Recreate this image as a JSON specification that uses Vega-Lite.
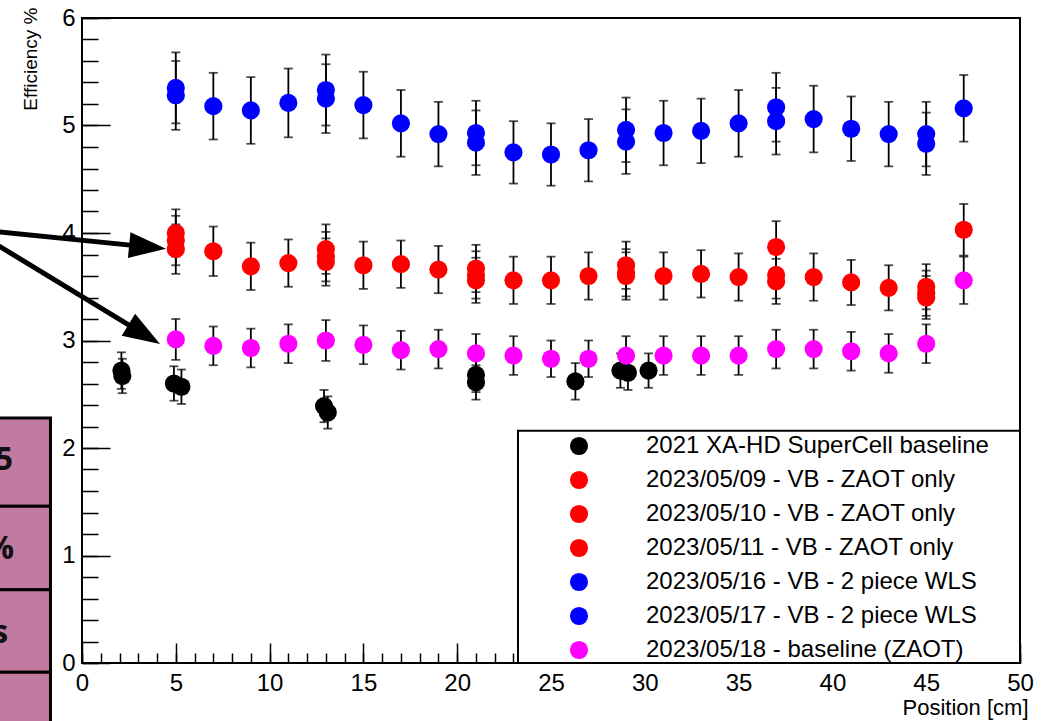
{
  "$schema": "https://vega.github.io/schema/vega-lite/v6.json",
  "width": 938,
  "height": 645,
  "autosize": {"type": "none"},
  "padding": {"left": 82, "top": 18, "right": 26, "bottom": 58},
  "background": "white",
  "config": {
    "view": {"stroke": "black", "strokeWidth": 2},
    "font": "Liberation Sans",
    "axis": {"grid": false}
  },
  "datasets": {
    "pts": [
      {"s": "2021 XA-HD SuperCell baseline", "x": 2.1, "y": 2.72, "err": 0.17},
      {"s": "2021 XA-HD SuperCell baseline", "x": 2.15, "y": 2.67, "err": 0.16},
      {"s": "2021 XA-HD SuperCell baseline", "x": 4.9, "y": 2.6, "err": 0.16},
      {"s": "2021 XA-HD SuperCell baseline", "x": 5.3, "y": 2.57, "err": 0.16},
      {"s": "2021 XA-HD SuperCell baseline", "x": 12.9, "y": 2.39, "err": 0.15},
      {"s": "2021 XA-HD SuperCell baseline", "x": 13.1, "y": 2.33, "err": 0.15},
      {"s": "2021 XA-HD SuperCell baseline", "x": 21.0, "y": 2.68, "err": 0.16},
      {"s": "2021 XA-HD SuperCell baseline", "x": 21.0, "y": 2.61, "err": 0.16},
      {"s": "2021 XA-HD SuperCell baseline", "x": 26.3, "y": 2.62, "err": 0.17},
      {"s": "2021 XA-HD SuperCell baseline", "x": 28.7, "y": 2.72, "err": 0.16},
      {"s": "2021 XA-HD SuperCell baseline", "x": 29.1, "y": 2.7, "err": 0.16},
      {"s": "2021 XA-HD SuperCell baseline", "x": 30.2, "y": 2.72, "err": 0.16},
      {"s": "2023/05/09 - VB - ZAOT only", "x": 5, "y": 4.0, "err": 0.22},
      {"s": "2023/05/09 - VB - ZAOT only", "x": 13, "y": 3.85, "err": 0.23},
      {"s": "2023/05/09 - VB - ZAOT only", "x": 21, "y": 3.67, "err": 0.22},
      {"s": "2023/05/09 - VB - ZAOT only", "x": 29, "y": 3.7, "err": 0.22},
      {"s": "2023/05/09 - VB - ZAOT only", "x": 37, "y": 3.87, "err": 0.24},
      {"s": "2023/05/09 - VB - ZAOT only", "x": 45, "y": 3.5, "err": 0.21},
      {"s": "2023/05/10 - VB - ZAOT only", "x": 5, "y": 3.93, "err": 0.23},
      {"s": "2023/05/10 - VB - ZAOT only", "x": 13, "y": 3.78, "err": 0.23},
      {"s": "2023/05/10 - VB - ZAOT only", "x": 21, "y": 3.61, "err": 0.22},
      {"s": "2023/05/10 - VB - ZAOT only", "x": 29, "y": 3.63, "err": 0.22},
      {"s": "2023/05/10 - VB - ZAOT only", "x": 37, "y": 3.61, "err": 0.22},
      {"s": "2023/05/10 - VB - ZAOT only", "x": 45, "y": 3.44, "err": 0.21},
      {"s": "2023/05/11 - VB - ZAOT only", "x": 5, "y": 3.85, "err": 0.23},
      {"s": "2023/05/11 - VB - ZAOT only", "x": 7, "y": 3.83, "err": 0.23},
      {"s": "2023/05/11 - VB - ZAOT only", "x": 9, "y": 3.69, "err": 0.22},
      {"s": "2023/05/11 - VB - ZAOT only", "x": 11, "y": 3.72, "err": 0.22},
      {"s": "2023/05/11 - VB - ZAOT only", "x": 13, "y": 3.73, "err": 0.22},
      {"s": "2023/05/11 - VB - ZAOT only", "x": 15, "y": 3.7, "err": 0.22},
      {"s": "2023/05/11 - VB - ZAOT only", "x": 17, "y": 3.71, "err": 0.22},
      {"s": "2023/05/11 - VB - ZAOT only", "x": 19, "y": 3.66, "err": 0.22},
      {"s": "2023/05/11 - VB - ZAOT only", "x": 21, "y": 3.56, "err": 0.21},
      {"s": "2023/05/11 - VB - ZAOT only", "x": 23, "y": 3.56, "err": 0.22},
      {"s": "2023/05/11 - VB - ZAOT only", "x": 25, "y": 3.56, "err": 0.22},
      {"s": "2023/05/11 - VB - ZAOT only", "x": 27, "y": 3.6, "err": 0.22},
      {"s": "2023/05/11 - VB - ZAOT only", "x": 29, "y": 3.6, "err": 0.22},
      {"s": "2023/05/11 - VB - ZAOT only", "x": 31, "y": 3.6, "err": 0.22},
      {"s": "2023/05/11 - VB - ZAOT only", "x": 33, "y": 3.62, "err": 0.22},
      {"s": "2023/05/11 - VB - ZAOT only", "x": 35, "y": 3.59, "err": 0.22},
      {"s": "2023/05/11 - VB - ZAOT only", "x": 37, "y": 3.55, "err": 0.21},
      {"s": "2023/05/11 - VB - ZAOT only", "x": 39, "y": 3.59, "err": 0.22},
      {"s": "2023/05/11 - VB - ZAOT only", "x": 41, "y": 3.54, "err": 0.21},
      {"s": "2023/05/11 - VB - ZAOT only", "x": 43, "y": 3.49, "err": 0.21},
      {"s": "2023/05/11 - VB - ZAOT only", "x": 45, "y": 3.4, "err": 0.2},
      {"s": "2023/05/11 - VB - ZAOT only", "x": 47, "y": 4.03, "err": 0.24},
      {"s": "2023/05/16 - VB - 2 piece WLS", "x": 5, "y": 5.28, "err": 0.32},
      {"s": "2023/05/16 - VB - 2 piece WLS", "x": 7, "y": 5.18, "err": 0.31},
      {"s": "2023/05/16 - VB - 2 piece WLS", "x": 9, "y": 5.14, "err": 0.31},
      {"s": "2023/05/16 - VB - 2 piece WLS", "x": 11, "y": 5.21, "err": 0.32},
      {"s": "2023/05/16 - VB - 2 piece WLS", "x": 13, "y": 5.25, "err": 0.32},
      {"s": "2023/05/16 - VB - 2 piece WLS", "x": 15, "y": 5.19, "err": 0.31},
      {"s": "2023/05/16 - VB - 2 piece WLS", "x": 17, "y": 5.02, "err": 0.31},
      {"s": "2023/05/16 - VB - 2 piece WLS", "x": 19, "y": 4.92, "err": 0.3},
      {"s": "2023/05/16 - VB - 2 piece WLS", "x": 21, "y": 4.84, "err": 0.3},
      {"s": "2023/05/16 - VB - 2 piece WLS", "x": 23, "y": 4.75, "err": 0.29},
      {"s": "2023/05/16 - VB - 2 piece WLS", "x": 25, "y": 4.73, "err": 0.29},
      {"s": "2023/05/16 - VB - 2 piece WLS", "x": 27, "y": 4.77, "err": 0.29},
      {"s": "2023/05/16 - VB - 2 piece WLS", "x": 29, "y": 4.85, "err": 0.3},
      {"s": "2023/05/16 - VB - 2 piece WLS", "x": 31, "y": 4.93, "err": 0.3},
      {"s": "2023/05/16 - VB - 2 piece WLS", "x": 33, "y": 4.95, "err": 0.3},
      {"s": "2023/05/16 - VB - 2 piece WLS", "x": 35, "y": 5.02, "err": 0.31},
      {"s": "2023/05/16 - VB - 2 piece WLS", "x": 37, "y": 5.04, "err": 0.31},
      {"s": "2023/05/16 - VB - 2 piece WLS", "x": 39, "y": 5.06, "err": 0.31},
      {"s": "2023/05/16 - VB - 2 piece WLS", "x": 41, "y": 4.97, "err": 0.3},
      {"s": "2023/05/16 - VB - 2 piece WLS", "x": 43, "y": 4.92, "err": 0.3},
      {"s": "2023/05/16 - VB - 2 piece WLS", "x": 45, "y": 4.83, "err": 0.29},
      {"s": "2023/05/16 - VB - 2 piece WLS", "x": 47, "y": 5.16, "err": 0.31},
      {"s": "2023/05/17 - VB - 2 piece WLS", "x": 5, "y": 5.35, "err": 0.33},
      {"s": "2023/05/17 - VB - 2 piece WLS", "x": 13, "y": 5.33, "err": 0.33},
      {"s": "2023/05/17 - VB - 2 piece WLS", "x": 21, "y": 4.93, "err": 0.3},
      {"s": "2023/05/17 - VB - 2 piece WLS", "x": 29, "y": 4.96, "err": 0.3},
      {"s": "2023/05/17 - VB - 2 piece WLS", "x": 37, "y": 5.17, "err": 0.32},
      {"s": "2023/05/17 - VB - 2 piece WLS", "x": 45, "y": 4.92, "err": 0.3},
      {"s": "2023/05/18 - baseline (ZAOT)", "x": 5, "y": 3.01, "err": 0.19},
      {"s": "2023/05/18 - baseline (ZAOT)", "x": 7, "y": 2.95, "err": 0.18},
      {"s": "2023/05/18 - baseline (ZAOT)", "x": 9, "y": 2.93, "err": 0.18},
      {"s": "2023/05/18 - baseline (ZAOT)", "x": 11, "y": 2.97, "err": 0.18},
      {"s": "2023/05/18 - baseline (ZAOT)", "x": 13, "y": 3.0, "err": 0.19},
      {"s": "2023/05/18 - baseline (ZAOT)", "x": 15, "y": 2.96, "err": 0.18},
      {"s": "2023/05/18 - baseline (ZAOT)", "x": 17, "y": 2.91, "err": 0.18},
      {"s": "2023/05/18 - baseline (ZAOT)", "x": 19, "y": 2.92, "err": 0.18},
      {"s": "2023/05/18 - baseline (ZAOT)", "x": 21, "y": 2.88, "err": 0.18},
      {"s": "2023/05/18 - baseline (ZAOT)", "x": 23, "y": 2.86, "err": 0.18},
      {"s": "2023/05/18 - baseline (ZAOT)", "x": 25, "y": 2.83, "err": 0.17},
      {"s": "2023/05/18 - baseline (ZAOT)", "x": 27, "y": 2.83, "err": 0.17},
      {"s": "2023/05/18 - baseline (ZAOT)", "x": 29, "y": 2.86, "err": 0.18},
      {"s": "2023/05/18 - baseline (ZAOT)", "x": 31, "y": 2.86, "err": 0.18},
      {"s": "2023/05/18 - baseline (ZAOT)", "x": 33, "y": 2.86, "err": 0.18},
      {"s": "2023/05/18 - baseline (ZAOT)", "x": 35, "y": 2.86, "err": 0.18},
      {"s": "2023/05/18 - baseline (ZAOT)", "x": 37, "y": 2.92, "err": 0.18},
      {"s": "2023/05/18 - baseline (ZAOT)", "x": 39, "y": 2.92, "err": 0.18},
      {"s": "2023/05/18 - baseline (ZAOT)", "x": 41, "y": 2.9, "err": 0.18},
      {"s": "2023/05/18 - baseline (ZAOT)", "x": 43, "y": 2.88, "err": 0.18},
      {"s": "2023/05/18 - baseline (ZAOT)", "x": 45, "y": 2.97, "err": 0.18},
      {"s": "2023/05/18 - baseline (ZAOT)", "x": 47, "y": 3.56, "err": 0.22}
    ],
    "legendbox": [{"x0": 23.24, "x1": 50, "y0": 0, "y1": 2.16}],
    "arrows": [
      {"id": 1, "x0": -5, "y0": 4.02, "x1": 3.497, "y1": 3.871},
      {"id": 2, "x0": -5, "y0": 3.94, "x1": 3.316, "y1": 3.057}
    ],
    "cells": [
      {"x0": -5, "x1": -1.68, "y0": 2.279, "y1": 1.457},
      {"x0": -5, "x1": -1.68, "y0": 1.457, "y1": 0.682},
      {"x0": -5, "x1": -1.68, "y0": 0.682, "y1": -0.087},
      {"x0": -5, "x1": -1.68, "y0": -0.087, "y1": -0.8}
    ],
    "celltext": [
      {"t": "5", "x": -3.68, "y": 1.8},
      {"t": "%", "x": -3.62, "y": 0.97},
      {"t": "s", "x": -3.94, "y": 0.19}
    ]
  },
  "resolve": {"axis": {"x": "independent", "y": "independent"}},
  "layer": [
    {
      "data": {"name": "cells"},
      "mark": {"type": "rect", "fill": "#c27ba0", "stroke": "black", "strokeWidth": 3, "clip": false},
      "encoding": {
        "x": {"field": "x0", "type": "quantitative", "scale": {"domain": [0, 50], "nice": false, "zero": false}, "axis": null},
        "x2": {"field": "x1"},
        "y": {"field": "y0", "type": "quantitative", "scale": {"domain": [0, 6], "nice": false, "zero": false}, "axis": null},
        "y2": {"field": "y1"}
      }
    },
    {
      "data": {"name": "celltext"},
      "mark": {"type": "text", "align": "right", "baseline": "alphabetic", "font": "Open Sans", "fontWeight": "bold", "fontSize": 32, "color": "#111111", "clip": false},
      "encoding": {
        "x": {"field": "x", "type": "quantitative", "axis": null},
        "y": {"field": "y", "type": "quantitative", "axis": null},
        "text": {"field": "t"}
      }
    },
    {
      "data": {"name": "pts"},
      "mark": {"type": "errorbar", "ticks": {"color": "black"}, "rule": {"color": "black"}, "color": "black", "thickness": 1.8, "size": 9, "clip": false},
      "encoding": {
        "x": {"field": "x", "type": "quantitative", "scale": {"domain": [0, 50], "nice": false, "zero": false},
          "axis": {"orient": "bottom", "values": [0, 5, 10, 15, 20, 25, 30, 35, 40, 45, 50], "tickSize": -20, "tickWidth": 1.5, "tickColor": "black", "domain": false,
            "labelFont": "Liberation Sans", "labelFontSize": 24, "labelColor": "black", "labelBaseline": "alphabetic", "labelPadding": 47, "labelFlush": false, "labelOverlap": false,
            "title": "Position [cm]", "titleFont": "Liberation Sans", "titleFontSize": 22, "titleFontWeight": "normal", "titleColor": "black", "titleAlign": "right", "titleBaseline": "alphabetic", "titleX": 946, "titleY": 51}},
        "y": {"field": "y", "type": "quantitative", "scale": {"domain": [0, 6], "nice": false, "zero": false},
          "axis": {"orient": "left", "values": [0, 1, 2, 3, 4, 5, 6], "tickSize": -28, "tickWidth": 1.5, "tickColor": "black", "domain": false,
            "labelFont": "Liberation Sans", "labelFontSize": 24, "labelColor": "black", "labelAlign": "right", "labelBaseline": "middle", "labelPadding": 35, "labelFlush": false, "labelOverlap": false,
            "title": "Efficiency %", "titleFont": "Liberation Sans", "titleFontSize": 19, "titleFontWeight": "normal", "titleColor": "black", "titleAngle": 270, "titleAlign": "right", "titleBaseline": "alphabetic", "titleX": -46, "titleY": -11}},
        "yError": {"field": "err"}
      }
    },
    {
      "data": {"name": "pts"},
      "mark": {"type": "point", "filled": true, "shape": "circle", "size": 330, "opacity": 1, "strokeWidth": 0, "clip": false},
      "encoding": {
        "x": {"field": "x", "type": "quantitative", "axis": null},
        "y": {"field": "y", "type": "quantitative", "axis": null},
        "color": {"field": "s", "type": "nominal",
          "scale": {"domain": ["2021 XA-HD SuperCell baseline", "2023/05/09 - VB - ZAOT only", "2023/05/10 - VB - ZAOT only", "2023/05/11 - VB - ZAOT only", "2023/05/16 - VB - 2 piece WLS", "2023/05/17 - VB - 2 piece WLS", "2023/05/18 - baseline (ZAOT)"],
            "range": ["#000000", "#ff0000", "#ff0000", "#ff0000", "#0000ff", "#0000ff", "#ff00ff"]},
          "legend": {"orient": "none", "legendX": 485, "legendY": 411, "title": null, "padding": 0, "labelFont": "Liberation Sans", "labelFontSize": 24, "labelColor": "black", "labelOffset": 55, "labelLimit": 600, "symbolSize": 330, "symbolType": "circle", "symbolStrokeWidth": 0, "rowPadding": 0, "clipHeight": 34}}
      }
    },
    {
      "data": {"name": "legendbox"},
      "mark": {"type": "rect", "fill": "white", "stroke": "black", "strokeWidth": 2, "clip": false},
      "encoding": {
        "x": {"field": "x0", "type": "quantitative",
          "axis": {"orient": "bottom", "values": [0, 1, 2, 3, 4, 5, 6, 7, 8, 9, 10, 11, 12, 13, 14, 15, 16, 17, 18, 19, 20, 21, 22, 23, 24, 25, 26, 27, 28, 29, 30, 31, 32, 33, 34, 35, 36, 37, 38, 39, 40, 41, 42, 43, 44, 45, 46, 47, 48, 49, 50], "tickSize": -10, "tickWidth": 1.5, "tickColor": "black", "labels": false, "domain": false, "title": null}},
        "x2": {"field": "x1"},
        "y": {"field": "y0", "type": "quantitative",
          "axis": {"orient": "left", "values": [0, 0.2, 0.4, 0.6, 0.8, 1, 1.2, 1.4, 1.6, 1.8, 2, 2.2, 2.4, 2.6, 2.8, 3, 3.2, 3.4, 3.6, 3.8, 4, 4.2, 4.4, 4.6, 4.8, 5, 5.2, 5.4, 5.6, 5.8, 6], "tickSize": -16, "tickWidth": 1.5, "tickColor": "black", "labels": false, "domain": false, "title": null}},
        "y2": {"field": "y1"}
      }
    },
    {
      "data": {"name": "arrows"},
      "mark": {"type": "rule", "color": "black", "strokeWidth": 5, "clip": false},
      "encoding": {
        "x": {"field": "x0", "type": "quantitative", "axis": null},
        "y": {"field": "y0", "type": "quantitative", "axis": null},
        "x2": {"field": "x1"},
        "y2": {"field": "y1"}
      }
    },
    {
      "data": {"name": "arrows"},
      "transform": [{"filter": "datum.id == 1"}],
      "mark": {"type": "point", "shape": "M1,0L-1,-0.7L-1,0.7Z", "filled": true, "color": "black", "opacity": 1, "size": 1369, "angle": 5.7, "strokeWidth": 0, "clip": false},
      "encoding": {
        "x": {"field": "x1", "type": "quantitative", "axis": null},
        "y": {"field": "y1", "type": "quantitative", "axis": null}
      }
    },
    {
      "data": {"name": "arrows"},
      "transform": [{"filter": "datum.id == 2"}],
      "mark": {"type": "point", "shape": "M1,0L-1,-0.7L-1,0.7Z", "filled": true, "color": "black", "opacity": 1, "size": 1369, "angle": 31.3, "strokeWidth": 0, "clip": false},
      "encoding": {
        "x": {"field": "x1", "type": "quantitative", "axis": null},
        "y": {"field": "y1", "type": "quantitative", "axis": null}
      }
    }
  ]
}
